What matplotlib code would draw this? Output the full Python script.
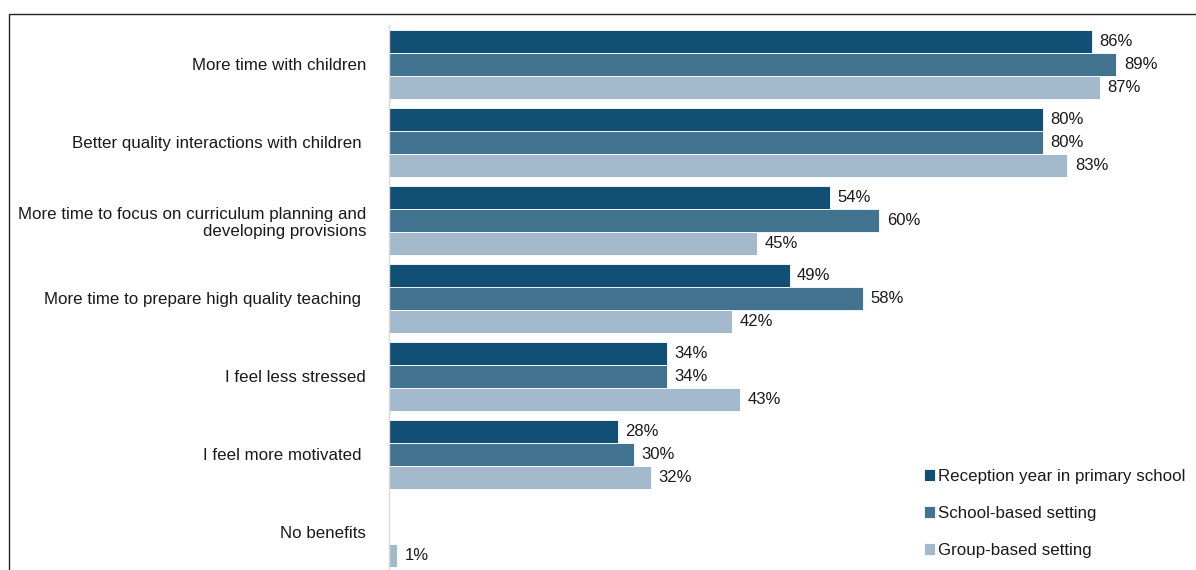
import numpy as np
import matplotlib.pyplot as plt
from matplotlib.patches import Rectangle

plt.rcParams['font.family'] = ['Liberation Sans', 'DejaVu Sans']

categories = ['More time with children',
              'Better quality interactions with children ',
              'More time to focus on curriculum planning and\ndeveloping provisions',
              'More time to prepare high quality teaching ',
              'I feel less stressed',
              'I feel more motivated ',
              'No benefits']
series_names = ['Reception year in primary school', 'School-based setting', 'Group-based setting']
reception = [86, 80, 54, 49, 34, 28, None]
school = [89, 80, 60, 58, 34, 30, None]
group = [87, 83, 45, 42, 43, 32, 1]
colors = ['#124F74', '#41738F', '#A2BACB']

W, H = 1196, 570
fig = plt.figure(figsize=(W / 100, H / 100), dpi=100)

# frame around the chart (cut off at right and bottom)
fig.patches.append(Rectangle((9 / W, -0.05), 1.1, 1 - 14 / H + 0.05, transform=fig.transFigure,
                             fill=False, edgecolor='#222222', linewidth=1.0))

ax = fig.add_axes([389 / W, -1 / H, (W - 389) / W, 546 / H])

h = 23 / 78
y = np.arange(len(categories))
for j, (vals, name) in enumerate(zip([reception, school, group], series_names)):
    v = np.array([np.nan if x is None else x for x in vals], dtype=float)
    pos = y + (j - 1) * h
    ax.barh(pos, np.nan_to_num(v), height=h, color=colors[j], edgecolor='white',
            linewidth=0.6, label=name)
    for p, val in zip(pos, v):
        if not np.isnan(val):
            ax.text(val + 0.9, p, f'{int(val)}%', va='center', ha='left', fontsize=12, color='#1a1a1a')

ax.set_xlim(0, (W - 389) / 8.174)
ax.set_ylim(6.5, -0.5)
ax.set_yticks(y)
ax.set_yticklabels(categories, fontsize=12.2, color='#1a1a1a')
ax.tick_params(axis='y', length=0, pad=16.5)
ax.set_xticks([])
for s in ['top', 'right', 'bottom']:
    ax.spines[s].set_visible(False)
ax.spines['left'].set_color('#D9D9D9')
ax.spines['left'].set_linewidth(1.0)

leg = ax.legend(loc='upper left', bbox_to_anchor=(924 / W, 1 - 469 / H), bbox_transform=fig.transFigure,
                frameon=False, fontsize=12.2, handlelength=0.65, handleheight=0.65, handletextpad=0.2,
                labelspacing=1.3, borderpad=0, borderaxespad=0)
for t in leg.get_texts():
    t.set_color('#1a1a1a')

fig.savefig('out.png', dpi=100)
